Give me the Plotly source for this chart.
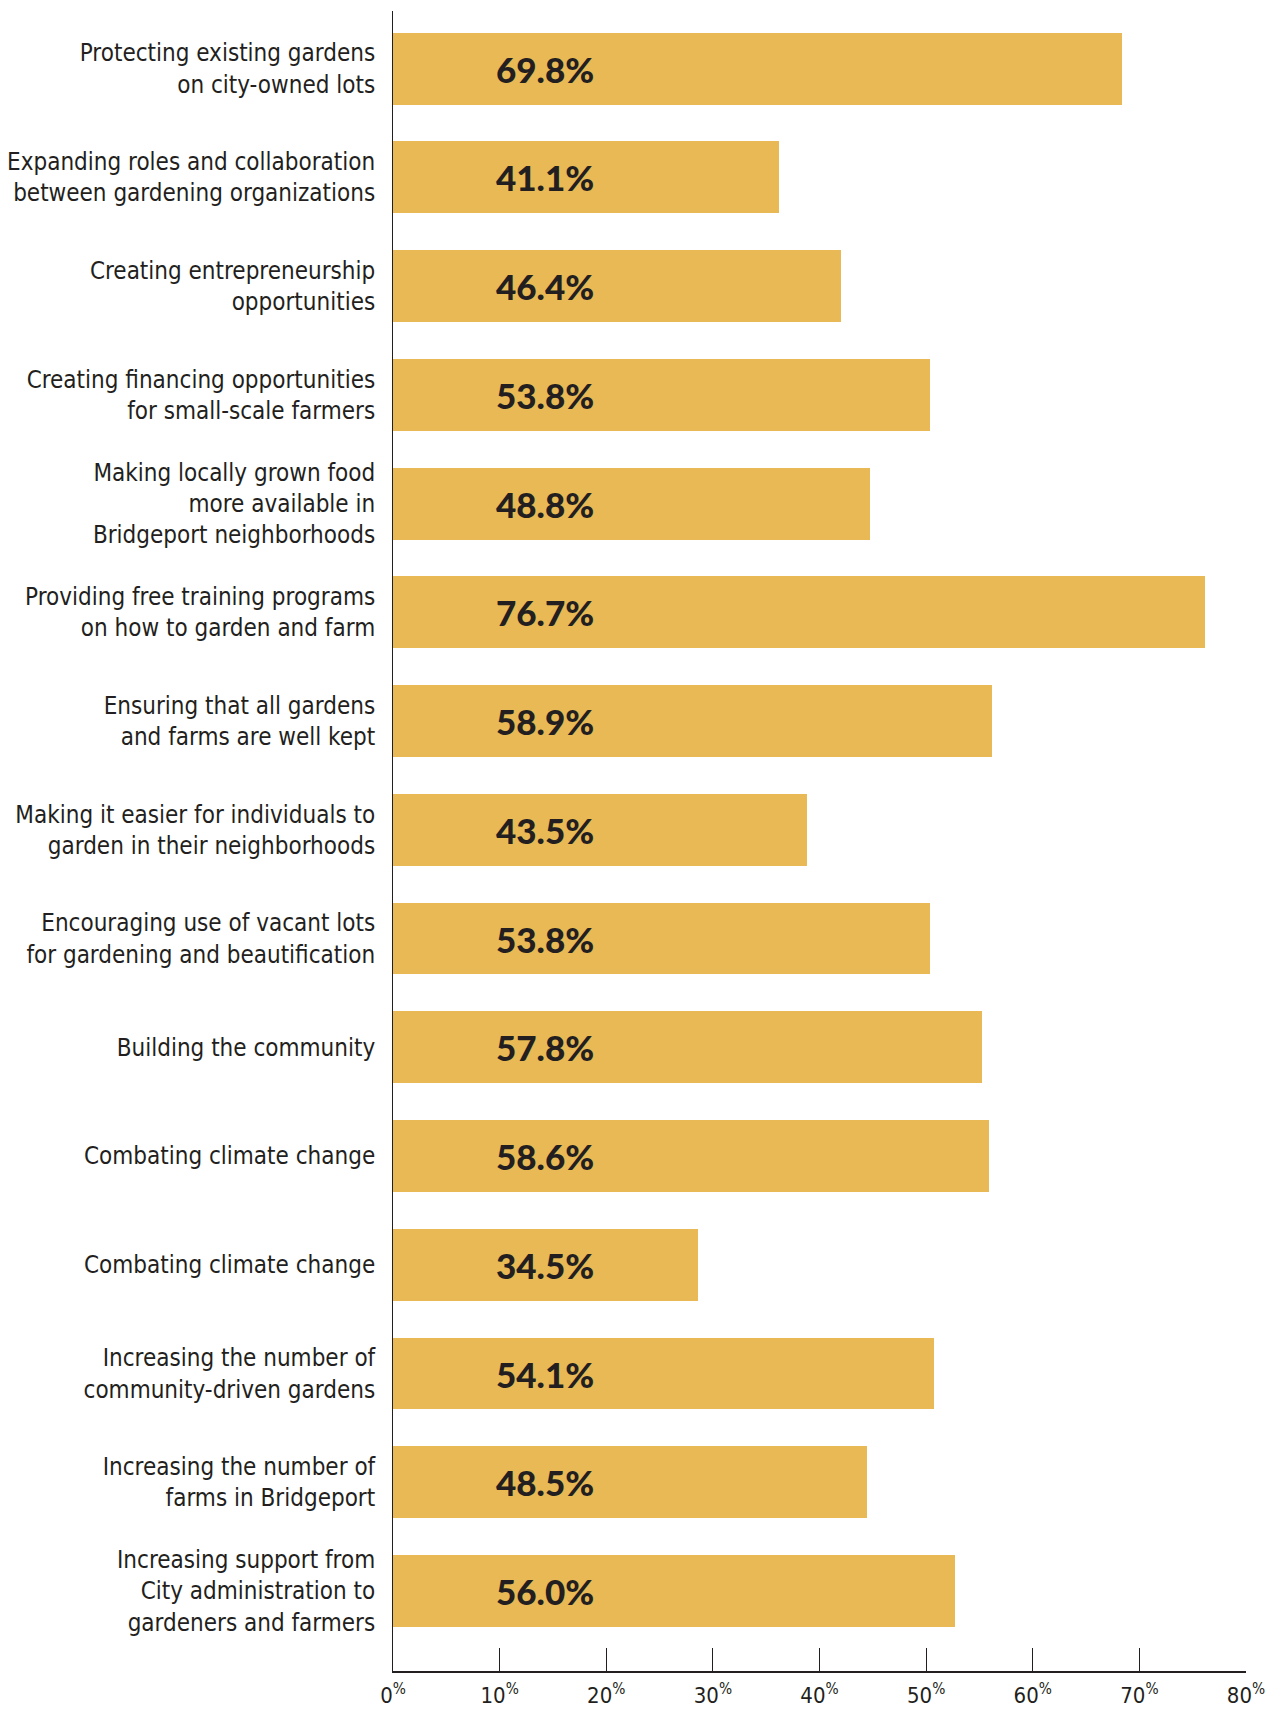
import plotly.graph_objects as go

categories = [
    "Protecting existing gardens<br>on city-owned lots",
    "Expanding roles and collaboration<br>between gardening organizations",
    "Creating entrepreneurship<br>opportunities",
    "Creating financing opportunities<br>for small-scale farmers",
    "Making locally grown food<br>more available in<br>Bridgeport neighborhoods",
    "Providing free training programs<br>on how to garden and farm",
    "Ensuring that all gardens<br>and farms are well kept",
    "Making it easier for individuals to<br>garden in their neighborhoods",
    "Encouraging use of vacant lots<br>for gardening and beautification",
    "Building the community",
    "Combating climate change",
    "Combating climate change",
    "Increasing the number of<br>community-driven gardens",
    "Increasing the number of<br>farms in Bridgeport",
    "Increasing support from<br>City administration to<br>gardeners and farmers",
]
# bar lengths as drawn (percent)
bar_values = [68.4, 36.2, 42.0, 50.4, 44.7, 76.2, 56.2, 38.8, 50.4, 55.2, 55.9, 28.6, 50.7, 44.5, 52.7]
# printed value labels
value_labels = ["69.8%", "41.1%", "46.4%", "53.8%", "48.8%", "76.7%", "58.9%", "43.5%",
                "53.8%", "57.8%", "58.6%", "34.5%", "54.1%", "48.5%", "56.0%"]
x_ticks = [0, 10, 20, 30, 40, 50, 60, 70, 80]
x_ticktext = [f"{v}<sup>%</sup>" for v in x_ticks]

positions = list(range(len(categories)))
BAR_COLOR = "#E8B954"
INK = "#231F20"
LABEL_FONT = "Liberation Sans Narrow, DejaVu Sans Condensed, Roboto Condensed, sans-serif"

fig = go.Figure()
fig.add_trace(go.Bar(
    x=bar_values, y=positions, orientation="h",
    marker=dict(color=BAR_COLOR, line=dict(width=0)),
    width=0.66, hoverinfo="skip", showlegend=False,
))

for p, lab in zip(positions, value_labels):
    fig.add_annotation(x=14.3, y=p, text=lab, showarrow=False,
                       xanchor="center", yanchor="middle",
                       font=dict(family="Lato, Roboto, sans-serif", size=35, color=INK, weight=900))

fig.update_layout(
    width=1283, height=1712,
    margin=dict(l=393, r=37, t=11, b=41),
    paper_bgcolor="white", plot_bgcolor="white",
    bargap=0,
    xaxis=dict(range=[0, 80], tickvals=x_ticks, ticktext=x_ticktext,
               ticks="inside", ticklen=23, tickwidth=1, tickcolor=INK,
               showline=True, linecolor=INK, linewidth=1.5,
               showgrid=False, zeroline=False, automargin=False,
               ticklabelstandoff=4,
               tickfont=dict(family=LABEL_FONT, size=22, color=INK)),
    yaxis=dict(range=[14.735, -0.53], tickvals=positions, ticktext=categories,
               ticks="", showline=True, linecolor=INK, linewidth=1,
               showgrid=False, zeroline=False, ticklabelstandoff=12,
               automargin=False,
               tickfont=dict(family=LABEL_FONT, size=24, color=INK)),
)

fig.write_html("out.html")
